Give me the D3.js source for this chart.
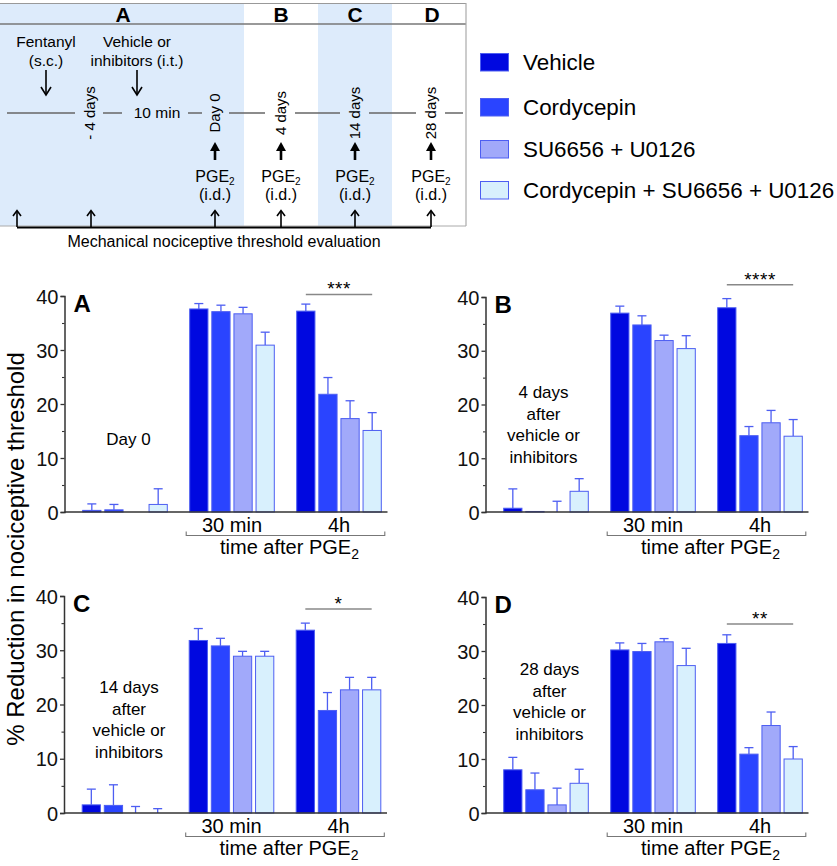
<!DOCTYPE html>
<html><head><meta charset="utf-8">
<script src="https://cdn.jsdelivr.net/npm/d3@7"></script>
<style>
body{margin:0;background:#fff;}
svg{display:block;font-family:"Liberation Sans",Arial,Helvetica,sans-serif;}
</style></head>
<body>
<svg id="c" width="837" height="866"></svg>
<script>
// ---------- DATA ----------
const series = ["Vehicle", "Cordycepin", "SU6656 + U0126", "Cordycepin + SU6656 + U0126"];
const groups = ["baseline", "30 min", "4h"];
const yTicks = [0, 10, 20, 30, 40];
const yMinorTicks = [5, 15, 25, 35];
// mean values [group][series]
const meanA = [[0.3, 0.4, 0, 1.4], [37.6, 37.1, 36.7, 30.9], [37.2, 21.8, 17.3, 15.1]];
const semA  = [[1.2, 1.0, 0, 2.9], [1.0, 1.2, 1.2, 2.4], [1.3, 3.1, 3.3, 3.3]];
const meanB = [[0.7, 0.1, 0, 3.85], [37.0, 34.8, 31.9, 30.4], [38.0, 14.2, 16.6, 14.1]];
const semB  = [[3.6, 0, 2.0, 2.35], [1.3, 1.7, 1.0, 2.4], [1.7, 1.7, 2.3, 3.1]];
const meanC = [[1.5, 1.4, 0, 0], [31.8, 30.8, 28.9, 28.9], [33.7, 18.9, 22.7, 22.7]];
const semC  = [[2.9, 3.8, 1.2, 0.8], [2.2, 1.4, 0.9, 0.9], [1.3, 3.3, 2.3, 2.3]];
const meanD = [[8.0, 4.3, 1.5, 5.5], [30.2, 29.9, 31.7, 27.3], [31.4, 10.9, 16.2, 10.0]];
const semD  = [[2.3, 3.1, 3.1, 2.6], [1.3, 1.5, 0.6, 3.2], [1.6, 1.2, 2.5, 2.3]];
const panelIds = ["A", "B", "C", "D"];
const panelNotes = [["Day 0"], ["4 days", "after", "vehicle or", "inhibitors"],
                    ["14 days", "after", "vehicle or", "inhibitors"], ["28 days", "after", "vehicle or", "inhibitors"]];
const sigStars = ["***", "****", "*", "**"];
const sigLevel = [40.3, 42.3, 37.6, 35.0];
const timeLabels = ["- 4 days", "Day 0", "4 days", "14 days", "28 days"];
const headerLetters = ["A", "B", "C", "D"];

// ---------- STYLE ----------
const fills = ["#0008e0", "#2a44ff", "#a1a9fa", "#d8f0fd"];
const edge = "#4d5ef2";
const shade = "#ddebfb";

const svg = d3.select("#c");

// ---------- TOP SCHEME ----------
const scheme = svg.append("g");
[[0, 244], [318, 392]].forEach(([a, b]) =>
  scheme.append("rect").attr("x", a).attr("y", 3).attr("width", b - a).attr("height", 223).attr("fill", shade));
scheme.append("line").attr("x1", 0).attr("x2", 466).attr("y1", 3.5).attr("y2", 3.5).attr("stroke", "#999").attr("stroke-width", 1.2);
scheme.append("line").attr("x1", 0).attr("x2", 466).attr("y1", 24).attr("y2", 24).attr("stroke", "#777").attr("stroke-width", 1.5);
scheme.append("line").attr("x1", 466).attr("x2", 466).attr("y1", 3).attr("y2", 226).attr("stroke", "#aaa").attr("stroke-width", 1.2);
scheme.append("line").attr("x1", 0).attr("x2", 466).attr("y1", 226).attr("y2", 226).attr("stroke", "#aaa").attr("stroke-width", 1);
const headerX = [123, 281, 355, 432];
headerLetters.forEach((l, i) => scheme.append("text").attr("x", headerX[i]).attr("y", 22).attr("text-anchor", "middle")
  .attr("font-size", 21).attr("font-weight", "bold").text(l));

// timeline
[[7, 75], [103, 122], [188, 202], [229, 265], [295, 340], [369, 416], [445, 463]].forEach(([a, b]) =>
  scheme.append("line").attr("x1", a).attr("x2", b).attr("y1", 113).attr("y2", 113).attr("stroke", "#666").attr("stroke-width", 1.5));
scheme.append("text").attr("x", 157).attr("y", 118).attr("text-anchor", "middle").attr("font-size", 15.5).text("10 min");
const tlX = [90, 215, 281, 355, 431];
timeLabels.forEach((t, i) => scheme.append("text").attr("transform", `translate(${tlX[i] + 5},113) rotate(-90)`)
  .attr("text-anchor", "middle").attr("font-size", 15).text(t));

const txt = (x, y, s, fs) => scheme.append("text").attr("x", x).attr("y", y).attr("text-anchor", "middle").attr("font-size", fs).text(s);
txt(46, 47, "Fentanyl", 15.5); txt(46, 66, "(s.c.)", 15.5);
txt(137, 47, "Vehicle or", 15.5); txt(137, 66, "inhibitors (i.t.)", 15.5);
[46, 137].forEach(x => {
  scheme.append("line").attr("x1", x).attr("x2", x).attr("y1", 70).attr("y2", 95).attr("stroke", "#000").attr("stroke-width", 1.6);
  scheme.append("path").attr("d", `M${x - 5},87 L${x},95 L${x + 5},87`).attr("fill", "none").attr("stroke", "#000").attr("stroke-width", 1.6);
});
[215, 281, 355, 431].forEach(x => {
  scheme.append("line").attr("x1", x).attr("x2", x).attr("y1", 149).attr("y2", 160).attr("stroke", "#000").attr("stroke-width", 2.6);
  scheme.append("path").attr("d", `M${x - 5},151 L${x},142 L${x + 5},151 Z`).attr("fill", "#000");
  const t = scheme.append("text").attr("x", x).attr("y", 182).attr("text-anchor", "middle").attr("font-size", 16);
  t.append("tspan").text("PGE");
  t.append("tspan").attr("dy", 2.5).attr("font-size", 10).text("2");
  txt(x, 200, "(i.d.)", 16);
});
[17, 91, 215, 281, 355, 431].forEach(x => {
  scheme.append("line").attr("x1", x).attr("x2", x).attr("y1", 211).attr("y2", 227).attr("stroke", "#000").attr("stroke-width", 1.6);
  scheme.append("path").attr("d", `M${x - 4},216 L${x},210.5 L${x + 4},216`).attr("fill", "none").attr("stroke", "#000").attr("stroke-width", 1.6);
});
scheme.append("line").attr("x1", 17).attr("x2", 431).attr("y1", 227.5).attr("y2", 227.5).attr("stroke", "#000").attr("stroke-width", 2);
txt(224, 247, "Mechanical nociceptive threshold evaluation", 16);

// ---------- LEGEND ----------
const legY = [53, 98, 140, 181];
series.forEach((s, i) => {
  svg.append("rect").attr("x", 480.5).attr("y", legY[i] + 0.5).attr("width", 28).attr("height", 17.5)
    .attr("fill", fills[i]).attr("stroke", edge).attr("stroke-width", 1);
  svg.append("text").attr("x", 523).attr("y", legY[i] + 17).attr("font-size", 22.4).text(s);
});

// ---------- PANELS ----------
const means = [meanA, meanB, meanC, meanD];
const sems = [semA, semB, semC, semD];
const layout = [
  {ax: 64.5, y0: 512, y40: 296},
  {ax: 485.5, y0: 512, y40: 297},
  {ax: 64, y0: 813, y40: 596},
  {ax: 485.5, y0: 813, y40: 597}
];
const noteLayout = [
  {dx: 64, dy: -67}, {dx: 58, dy: -114}, {dx: 65, dy: -120}, {dx: 64, dy: -138}
];

panelIds.forEach((pid, p) => {
  const L = layout[p];
  const g = svg.append("g");
  const y = d3.scaleLinear().domain([0, 40]).range([L.y0, L.y40]);
  const x = d3.scaleBand().domain(groups).range([L.ax + 7, L.ax + 328]).paddingInner(0.2).paddingOuter(0.1);
  const xs = d3.scaleBand().domain(series).range([0, x.bandwidth()]).paddingInner(0.13);

  groups.forEach((grp, gi) => {
    series.forEach((s, si) => {
      const v = means[p][gi][si], e = sems[p][gi][si];
      const bx = x(grp) + xs(s), bw = xs.bandwidth(), cx = bx + bw / 2;
      if (e > 0) {
        g.append("line").attr("x1", cx).attr("x2", cx).attr("y1", y(v)).attr("y2", y(v + e)).attr("stroke", edge).attr("stroke-width", 1.3);
        g.append("line").attr("x1", cx - 4.5).attr("x2", cx + 4.5).attr("y1", y(v + e)).attr("y2", y(v + e)).attr("stroke", edge).attr("stroke-width", 1.3);
      }
      if (v > 0) {
        g.append("rect").attr("x", bx + 0.5).attr("y", y(v)).attr("width", bw - 1).attr("height", y(0) - y(v))
          .attr("fill", fills[si]).attr("stroke", edge).attr("stroke-width", 1);
      }
    });
  });

  const yAxis = g.append("g").attr("transform", `translate(${L.ax},0)`)
    .call(d3.axisLeft(y).tickValues(yTicks).tickSize(4).tickPadding(2).tickFormat(d3.format("d")));
  yAxis.selectAll("text").attr("font-size", 20).attr("fill", "#111").attr("font-family", "Liberation Sans, Arial, sans-serif").attr("dy", "0.36em");
  yAxis.select(".domain").attr("stroke", "#333").attr("stroke-width", 1.5);
  yAxis.selectAll(".tick line").attr("stroke", "#333").attr("stroke-width", 1.3);
  const yMin = g.append("g").attr("transform", `translate(${L.ax},0)`)
    .call(d3.axisLeft(y).tickValues(yMinorTicks).tickSize(2.5).tickFormat(""));
  yMin.select(".domain").remove();
  yMin.selectAll(".tick line").attr("stroke", "#333").attr("stroke-width", 1.1);
  g.append("line").attr("x1", L.ax).attr("x2", L.ax + 323).attr("y1", L.y0).attr("y2", L.y0).attr("stroke", "#333").attr("stroke-width", 1.6);

  [1, 2].forEach(gi => g.append("text").attr("x", x(groups[gi]) + x.bandwidth() / 2).attr("y", L.y0 + 20)
    .attr("text-anchor", "middle").attr("font-size", 20).text(groups[gi]));
  const bx1 = x(groups[1]) - 3, bx2 = x(groups[2]) + x.bandwidth() + 3, by = L.y0 + 23.5;
  g.append("path").attr("d", `M${bx1},${by - 4} V${by} H${bx2} V${by - 4}`).attr("fill", "none").attr("stroke", "#777").attr("stroke-width", 1.1);
  const tt = g.append("text").attr("x", (bx1 + bx2) / 2 + 4).attr("y", L.y0 + 42).attr("text-anchor", "middle").attr("font-size", 20);
  tt.append("tspan").text("time after PGE");
  tt.append("tspan").attr("dy", 5).attr("font-size", 14).text("2");

  g.append("text").attr("x", L.ax + 9).attr("y", L.y40 + 16).attr("font-size", 24).attr("font-weight", "bold").text(pid);

  const N = noteLayout[p];
  panelNotes[p].forEach((line, li) => g.append("text").attr("x", L.ax + N.dx).attr("y", L.y0 + N.dy + li * 21.5)
    .attr("text-anchor", "middle").attr("font-size", 17).text(line));

  const sx1 = x(groups[2]) + xs(series[0]) + xs.bandwidth() / 2;
  const sx2 = x(groups[2]) + xs(series[3]) + xs.bandwidth() / 2;
  const sy = y(sigLevel[p]);
  g.append("line").attr("x1", sx1).attr("x2", sx2).attr("y1", sy).attr("y2", sy).attr("stroke", "#888").attr("stroke-width", 1.5);
  g.append("text").attr("x", (sx1 + sx2) / 2).attr("y", sy + 1).attr("text-anchor", "middle").attr("font-size", 19).attr("letter-spacing", 0.5).text(sigStars[p]);
});

svg.append("text").attr("transform", "translate(24,549) rotate(-90)").attr("text-anchor", "middle")
  .attr("font-size", 24).text("% Reduction in nociceptive threshold");
</script>
</body></html>
